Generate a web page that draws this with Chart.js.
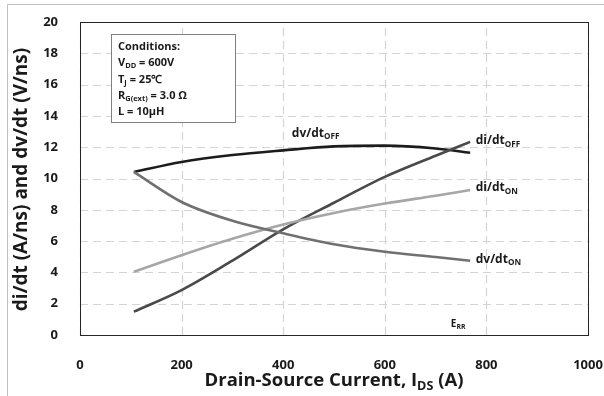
<!DOCTYPE html>
<html lang="en">
<head>
  <meta charset="UTF-8" />
  <title>dv/dt and di/dt vs Drain-Source Current</title>
  <script src="https://cdn.jsdelivr.net/npm/chart.js"></script>
  <style>
    body { margin: 0; background: #fff; }
    #wrap { width: 604px; height: 396px; position: relative; }
  </style>
</head>
<body>
  <div id="wrap"><canvas id="slewChart" width="604" height="396"></canvas></div>

  <script>
    // Drain-source current (A) sample points
    const currentA = [106, 200, 300, 400, 500, 600, 700, 768];
    // Switching slew rates at each current
    const dvdtOff = [10.42, 11.06, 11.5, 11.8, 12.05, 12.1, 11.92, 11.65];
    const didtOff = [1.49, 2.87, 4.75, 6.75, 8.45, 10.1, 11.45, 12.34];
    const didtOn  = [4.04, 5.1, 6.15, 7.06, 7.8, 8.4, 8.9, 9.26];
    const dvdtOn  = [10.42, 8.5, 7.3, 6.5, 5.8, 5.32, 4.98, 4.74];

    const xTicks = [0, 200, 400, 600, 800, 1000];
    const yTicks = [0, 2, 4, 6, 8, 10, 12, 14, 16, 18, 20];

    const FONT = '"Open Sans", "Liberation Sans", sans-serif';

    function pts(ys) {
      return currentA.map((x, i) => ({ x: x, y: ys[i] }));
    }

    function series(data, color) {
      return {
        data: pts(data),
        borderColor: color,
        borderWidth: 2.6,
        pointRadius: 0,
        fill: false,
        cubicInterpolationMode: 'monotone'
      };
    }

    // text with subscript parts, e.g. [['di/dt'], ['OFF', true]]
    function richWidth(ctx, parts, size) {
      let w = 0;
      parts.forEach(p => {
        ctx.font = 'bold ' + (p[1] ? size * 0.68 : size) + 'px ' + FONT;
        w += ctx.measureText(p[0]).width;
      });
      return w;
    }

    function drawRich(ctx, parts, x, y, size, align) {
      ctx.save();
      ctx.fillStyle = '#1a1a1a';
      ctx.textBaseline = 'middle';
      ctx.textAlign = 'left';
      let cx = x;
      if (align === 'center') cx = x - richWidth(ctx, parts, size) / 2;
      parts.forEach(p => {
        const s = p[1] ? size * 0.68 : size;
        ctx.font = 'bold ' + s + 'px ' + FONT;
        ctx.fillText(p[0], cx, p[1] ? y + size * 0.3 : y);
        cx += ctx.measureText(p[0]).width;
      });
      ctx.restore();
    }

    const annotations = {
      id: 'annotations',
      beforeDraw(chart) {
        const ctx = chart.ctx;
        // light outer frame
        ctx.save();
        ctx.strokeStyle = '#c0c0c0';
        ctx.lineWidth = 1;
        ctx.beginPath();
        ctx.moveTo(7.5, 396);
        ctx.lineTo(7.5, 4.5);
        ctx.lineTo(604, 4.5);
        ctx.stroke();
        ctx.restore();
      },
      beforeDatasetsDraw(chart) {
        // dashed grid at the tick positions
        const ctx = chart.ctx;
        const a = chart.chartArea;
        const xs = chart.scales.x, ys = chart.scales.y;
        ctx.save();
        ctx.strokeStyle = '#d4d4d4';
        ctx.lineWidth = 1.2;
        ctx.setLineDash([8, 5]);
        ctx.beginPath();
        xTicks.forEach(v => {
          const px = Math.round(xs.getPixelForValue(v)) + 0.5;
          ctx.moveTo(px, a.bottom);
          ctx.lineTo(px, a.top);
        });
        yTicks.forEach(v => {
          const py = Math.round(ys.getPixelForValue(v)) + 0.5;
          ctx.moveTo(a.left, py);
          ctx.lineTo(a.right, py);
        });
        ctx.stroke();
        ctx.restore();
      },
      afterDraw(chart) {
        const ctx = chart.ctx;
        const a = chart.chartArea;
        const xs = chart.scales.x, ys = chart.scales.y;

        // plot border
        ctx.save();
        ctx.strokeStyle = '#262626';
        ctx.lineWidth = 1;
        ctx.strokeRect(Math.round(a.left) + 0.5, Math.round(a.top) + 0.5,
          Math.round(a.right - a.left), Math.round(a.bottom - a.top));
        ctx.restore();

        // curve labels
        drawRich(ctx, [['dv/dt'], ['OFF', true]], xs.getPixelForValue(417), ys.getPixelForValue(12.9), 12, 'left');
        drawRich(ctx, [['di/dt'], ['OFF', true]], xs.getPixelForValue(779), ys.getPixelForValue(12.4), 12, 'left');
        drawRich(ctx, [['di/dt'], ['ON', true]], xs.getPixelForValue(779), ys.getPixelForValue(9.4), 12, 'left');
        drawRich(ctx, [['dv/dt'], ['ON', true]], xs.getPixelForValue(779), ys.getPixelForValue(4.85), 12, 'left');
        drawRich(ctx, [['E'], ['RR', true]], xs.getPixelForValue(730), ys.getPixelForValue(0.7), 10, 'left');

        // conditions box
        ctx.save();
        ctx.fillStyle = '#fff';
        ctx.fillRect(111.5, 34.5, 124, 88);
        ctx.strokeStyle = '#7f7f7f';
        ctx.lineWidth = 1;
        ctx.strokeRect(111.5, 34.5, 124, 88);
        ctx.restore();
        const bx = 118;
        drawRich(ctx, [['Conditions:']], bx, 47, 11, 'left');
        drawRich(ctx, [['V'], ['DD', true], [' = 600V']], bx, 63, 11, 'left');
        drawRich(ctx, [['T'], ['J', true], [' = 25\u2103']], bx, 80, 11, 'left');
        drawRich(ctx, [['R'], ['G(ext)', true], [' = 3.0 \u03A9']], bx, 96, 11, 'left');
        drawRich(ctx, [['L = 10\u00B5H']], bx, 112, 11, 'left');

        // axis titles
        const midX = (a.left + a.right) / 2;
        drawRich(ctx, [['Drain-Source Current, I'], ['DS', true], [' (A)']], midX, 381, 18.5, 'center');
        ctx.save();
        ctx.translate(22, (a.top + a.bottom) / 2 + 1);
        ctx.rotate(-Math.PI / 2);
        drawRich(ctx, [['di/dt (A/ns) and dv/dt (V/ns)']], 0, 0, 19, 'center');
        ctx.restore();
      }
    };

    const tickFont = { family: FONT, weight: 'bold', size: 13 };

    new Chart(document.getElementById('slewChart').getContext('2d'), {
      type: 'line',
      data: {
        datasets: [
          series(dvdtOn, '#707070'),
          series(didtOn, '#a6a6a6'),
          series(didtOff, '#4a4a4a'),
          series(dvdtOff, '#1c1c1c')
        ]
      },
      options: {
        responsive: false,
        animation: false,
        layout: { padding: { top: 22, right: 16, bottom: 0, left: 0 } },
        plugins: { legend: { display: false }, tooltip: { enabled: false } },
        scales: {
          x: {
            type: 'linear',
            min: 0,
            max: 1000,
            afterBuildTicks: s => { s.ticks = xTicks.map(v => ({ value: v })); },
            afterFit: s => { s.height = 61; s.paddingLeft = 0; s.paddingRight = 0; },
            grid: { display: false },
            border: { display: false },
            ticks: {
              padding: 14,
              color: '#1a1a1a',
              font: tickFont,
              callback: v => String(v)
            }
          },
          y: {
            min: 0,
            max: 20,
            afterBuildTicks: s => { s.ticks = yTicks.map(v => ({ value: v })); },
            afterFit: s => { s.width = 80; s.paddingTop = 0; s.paddingBottom = 0; },
            grid: { display: false },
            border: { display: false },
            ticks: {
              padding: 14,
              color: '#1a1a1a',
              font: tickFont,
              callback: v => String(v)
            }
          }
        }
      },
      plugins: [annotations]
    });
  </script>
</body>
</html>
